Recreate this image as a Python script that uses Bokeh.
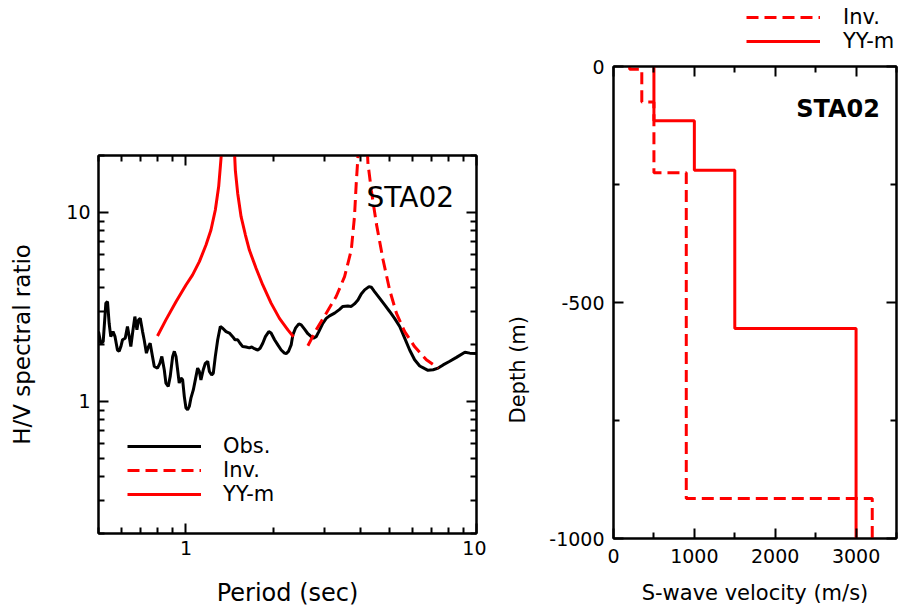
import math
from bokeh.plotting import figure
from bokeh.layouts import row, column
from bokeh.models import (FixedTicker, LogAxis, LinearAxis, Legend, LegendItem,
                          Label, Title, CustomJSTickFormatter, BasicTickFormatter)
from bokeh.embed import file_html
from bokeh.resources import INLINE

FONT = "DejaVu Sans"
RED = "#ff0000"

# ---------------- data: H/V spectral ratio ----------------
obs_period = [0.50, 0.509, 0.519, 0.530, 0.537, 0.544, 0.551, 0.561, 0.570, 0.581,
              0.589, 0.597, 0.605, 0.618, 0.629, 0.638, 0.646, 0.655, 0.667, 0.678,
              0.687, 0.696, 0.709, 0.718, 0.731, 0.743, 0.753, 0.767, 0.778, 0.798,
              0.813, 0.826, 0.842, 0.853, 0.869, 0.883, 0.900, 0.912, 0.924, 0.936,
              0.948, 0.961, 0.974, 0.987, 1.000, 1.013, 1.027, 1.040, 1.060, 1.077,
              1.097, 1.112, 1.126, 1.147, 1.166, 1.188, 1.204, 1.226, 1.242, 1.262,
              1.286, 1.313, 1.338, 1.374, 1.411, 1.448, 1.475, 1.507, 1.535, 1.568,
              1.610, 1.653, 1.684, 1.721, 1.767, 1.800, 1.838, 1.877, 1.928, 1.963,
              2.018, 2.071, 2.127, 2.183, 2.213, 2.254, 2.302, 2.333, 2.382, 2.446,
              2.493, 2.559, 2.628, 2.698, 2.748, 2.806, 2.866, 2.958, 3.040, 3.120,
              3.248, 3.380, 3.467, 3.606, 3.707, 3.802, 3.908, 4.011, 4.121, 4.266,
              4.345, 4.457, 4.645, 4.831, 5.024, 5.224, 5.441, 5.660, 5.888, 6.124,
              6.377, 6.637, 6.808, 7.093, 7.379, 7.676, 8.091, 8.531, 9.120, 9.484, 10.0]
obs_ratio = [2.34, 2.03, 2.07, 3.31, 3.37, 2.59, 2.20, 2.34, 2.20, 1.87,
             1.84, 1.95, 2.12, 2.16, 2.49, 2.20, 1.95, 2.30, 2.81, 2.39,
             2.70, 2.75, 2.34, 2.12, 1.80, 1.95, 2.03, 1.73, 1.53, 1.50,
             1.59, 1.73, 1.47, 1.25, 1.20, 1.36, 1.73, 1.84, 1.73, 1.47,
             1.25, 1.33, 1.30, 1.06, 0.922, 0.904, 0.941, 1.04, 1.15, 1.30,
             1.50, 1.44, 1.30, 1.47, 1.59, 1.63, 1.44, 1.38, 1.41, 1.73,
             2.12, 2.49, 2.44, 2.34, 2.30, 2.20, 2.12, 2.12, 2.03, 1.95,
             1.94, 1.92, 1.94, 1.90, 1.87, 1.91, 2.03, 2.20, 2.34, 2.30,
             2.12, 1.99, 1.87, 1.80, 1.79, 1.84, 1.99, 2.25, 2.44, 2.57,
             2.54, 2.41, 2.28, 2.20, 2.16, 2.20, 2.34, 2.59, 2.75, 2.835,
             2.93, 3.07, 3.18, 3.20, 3.18, 3.28, 3.44, 3.70, 3.89, 4.05,
             4.02, 3.81, 3.51, 3.24, 2.99, 2.75, 2.49, 2.16, 1.87, 1.66,
             1.54, 1.49, 1.46, 1.47, 1.50, 1.56, 1.63, 1.71, 1.82, 1.80, 1.79]

inv_period = [2.628, 2.806, 3.040, 3.289, 3.515, 3.707, 3.802, 3.855, 3.908, 3.93,
              4.21, 4.23, 4.345, 4.52, 4.77, 5.024, 5.30, 5.66, 6.12, 6.72, 7.38]
inv_ratio = [1.97, 2.39, 2.93, 3.59, 4.57, 6.32, 9.49, 14.2, 19.7, 21.3,
             21.3, 18.2, 13.1, 8.75, 5.60, 3.89, 2.93, 2.34, 1.95, 1.66, 1.50]

yym_period = [0.798, 0.853, 0.924, 1.000, 1.054, 1.112, 1.172, 1.219, 1.262, 1.296,
              1.313, 1.327, 1.468, 1.479, 1.507, 1.548, 1.602, 1.653, 1.743, 1.838,
              1.963, 2.098, 2.242, 2.345]
yym_ratio = [2.22, 2.70, 3.37, 4.13, 4.67, 5.49, 6.72, 8.07, 10.3, 13.7,
             17.4, 21.3, 21.3, 16.7, 12.6, 9.49, 7.59, 6.32, 5.06, 4.13,
             3.31, 2.75, 2.39, 2.20]

hv_major = [1, 10]
period_minor = [0.5, 0.6, 0.7, 0.8, 0.9, 2, 3, 4, 5, 6, 7, 8, 9]
ratio_minor = [0.2, 0.3, 0.4, 0.5, 0.6, 0.7, 0.8, 0.9, 2, 3, 4, 5, 6, 7, 8, 9, 20]

# ---------------- data: velocity profiles ----------------
inv_vs = [200, 350, 500, 900, 3200]
inv_top = [0, -6, -75, -225, -915]
yym_vs = [500, 1000, 1500, 3000]
yym_top = [0, -115, -220, -555]
profile_bottom = -1000

vel_major = [0, 1000, 2000, 3000]
vel_minor = [500, 1500, 2500, 3500]
depth_major = [0, -500, -1000]
depth_minor = [-250, -750]


def step_profile(vs, tops, bottom):
    xs, ys = [], []
    for i, v in enumerate(vs):
        b = tops[i + 1] if i + 1 < len(tops) else bottom
        xs += [v, v]
        ys += [tops[i], b]
    return xs, ys


def style_axis(ax, label_size="23px", standoff=8, label_standoff=10):
    ax.axis_line_width = 2
    ax.axis_line_color = "black"
    ax.major_tick_line_width = 2
    ax.minor_tick_line_width = 2
    ax.major_tick_line_color = "black"
    ax.minor_tick_line_color = "black"
    ax.major_tick_in = 10
    ax.major_tick_out = 0
    ax.minor_tick_in = 6
    ax.minor_tick_out = 0
    ax.major_label_text_font = FONT
    ax.major_label_text_font_size = "19px"
    ax.major_label_text_color = "black"
    ax.major_label_standoff = standoff
    ax.axis_label_text_font = FONT
    ax.axis_label_text_font_style = "normal"
    ax.axis_label_text_font_size = label_size
    ax.axis_label_text_color = "black"
    ax.axis_label_standoff = label_standoff


def mirror(ax, standoff=0):
    style_axis(ax)
    ax.formatter = CustomJSTickFormatter(code="return ''")
    ax.major_label_standoff = standoff
    ax.major_label_text_font_size = "0px"


# ================= left figure =================
p1 = figure(width=486, height=612, x_axis_type="log", y_axis_type="log",
            x_range=(0.5, 10), y_range=(0.2, 20),
            output_backend="svg", toolbar_location=None,
            min_border_left=98, min_border_right=10,
            min_border_top=155, min_border_bottom=79)
p1.xgrid.visible = False
p1.ygrid.visible = False
p1.outline_line_color = "black"
p1.outline_line_width = 2

xt = FixedTicker(ticks=hv_major, minor_ticks=period_minor)
yt = FixedTicker(ticks=hv_major, minor_ticks=ratio_minor)
p1.xaxis.ticker = xt
p1.yaxis.ticker = yt
p1.xaxis.formatter = BasicTickFormatter()
p1.yaxis.formatter = BasicTickFormatter()
p1.xaxis.axis_label = "Period (sec)"
p1.yaxis.axis_label = "H/V spectral ratio"
style_axis(p1.xaxis[0], "24px", 7, 21)
style_axis(p1.yaxis[0], "23px", 8, 28)

top1 = LogAxis(ticker=xt)
mirror(top1)
p1.add_layout(top1, "above")
right1 = LogAxis(ticker=yt)
mirror(right1)
p1.add_layout(right1, "right")

r_obs = p1.line(obs_period, obs_ratio, line_color="black", line_width=3)
r_inv = p1.line(inv_period, inv_ratio, line_color=RED, line_width=3, line_dash="12 6")
r_yym = p1.line(yym_period, yym_ratio, line_color=RED, line_width=3)

leg1 = Legend(items=[LegendItem(label="Obs.", renderers=[r_obs]),
                     LegendItem(label="Inv.", renderers=[r_inv]),
                     LegendItem(label="YY-m", renderers=[r_yym])],
              location=(29, 27), padding=0, margin=0, spacing=0,
              glyph_width=74, glyph_height=24, label_height=24,
              label_standoff=22, border_line_color=None,
              background_fill_alpha=0, label_text_font=FONT,
              label_text_font_size="21px", label_text_color="black")
p1.add_layout(leg1)

p1.add_layout(Label(x=4.185, y=11.97, text="STA02", text_font=FONT,
                    text_font_size="28px", text_baseline="middle",
                    text_align="left", text_color="black"))

# ================= right column: legend strip + profile figure =================
ix, iy = step_profile(inv_vs, inv_top, profile_bottom)
yx, yy = step_profile(yym_vs, yym_top, profile_bottom)

RIGHT_W = 904 - 486
RIGHT_LEFT = 127

# legend strip (its own small canvas above the profile plot)
pl = figure(width=RIGHT_W, height=56, x_range=(0, 1), y_range=(0, 1),
            output_backend="svg", toolbar_location=None,
            x_axis_location=None, y_axis_location=None,
            min_border_left=RIGHT_LEFT, min_border_right=8,
            min_border_top=0, min_border_bottom=0)
pl.grid.visible = False
pl.outline_line_color = None
pl.background_fill_alpha = 0
rl_inv = pl.line(ix, iy, line_color=RED, line_width=3, line_dash="12 6")
rl_yym = pl.line(yx, yy, line_color=RED, line_width=3)
leg2 = Legend(items=[LegendItem(label="Inv.", renderers=[rl_inv]),
                     LegendItem(label="YY-m", renderers=[rl_yym])],
              location=(133, 3), padding=0, margin=0, spacing=0,
              glyph_width=74, glyph_height=24, label_height=24,
              label_standoff=23, border_line_color=None,
              background_fill_alpha=0, label_text_font=FONT,
              label_text_font_size="21px", label_text_color="black")
pl.add_layout(leg2)

p2 = figure(width=RIGHT_W, height=556, x_range=(0, 3500), y_range=(-1000, 0),
            output_backend="svg", toolbar_location=None,
            min_border_left=RIGHT_LEFT, min_border_right=8,
            min_border_top=10, min_border_bottom=74)
p2.xgrid.visible = False
p2.ygrid.visible = False
p2.outline_line_color = "black"
p2.outline_line_width = 2

vt = FixedTicker(ticks=vel_major, minor_ticks=vel_minor)
dt = FixedTicker(ticks=depth_major, minor_ticks=depth_minor)
p2.xaxis.ticker = vt
p2.yaxis.ticker = dt
p2.yaxis.formatter = CustomJSTickFormatter(code="return tick.toString()")
p2.xaxis.axis_label = "S-wave velocity (m/s)"
style_axis(p2.xaxis[0], "21px", 10, 15)
style_axis(p2.yaxis[0], "21px", 9, 0)

top2 = LinearAxis(ticker=vt)
mirror(top2)
p2.add_layout(top2, "above")
right2 = LinearAxis(ticker=dt)
mirror(right2)
p2.add_layout(right2, "right")

p2.add_layout(Title(text="Depth (m)", align="left", offset=115,
                    vertical_align="middle", standoff=32,
                    text_font=FONT, text_font_size="21px",
                    text_font_style="normal", text_color="black"), "left")

p2.line(ix, iy, line_color=RED, line_width=3, line_dash="12 6")
p2.line(yx, yy, line_color=RED, line_width=3)

p2.add_layout(Label(x=3296, y=-89, text="STA02", text_font=FONT,
                    text_font_size="24px", text_font_style="bold",
                    text_baseline="middle", text_align="right",
                    text_color="black"))

layout = row(column(p1), column(column(pl), column(p2), spacing=0), spacing=0)
open("out.html", "w").write(file_html(layout, INLINE))
